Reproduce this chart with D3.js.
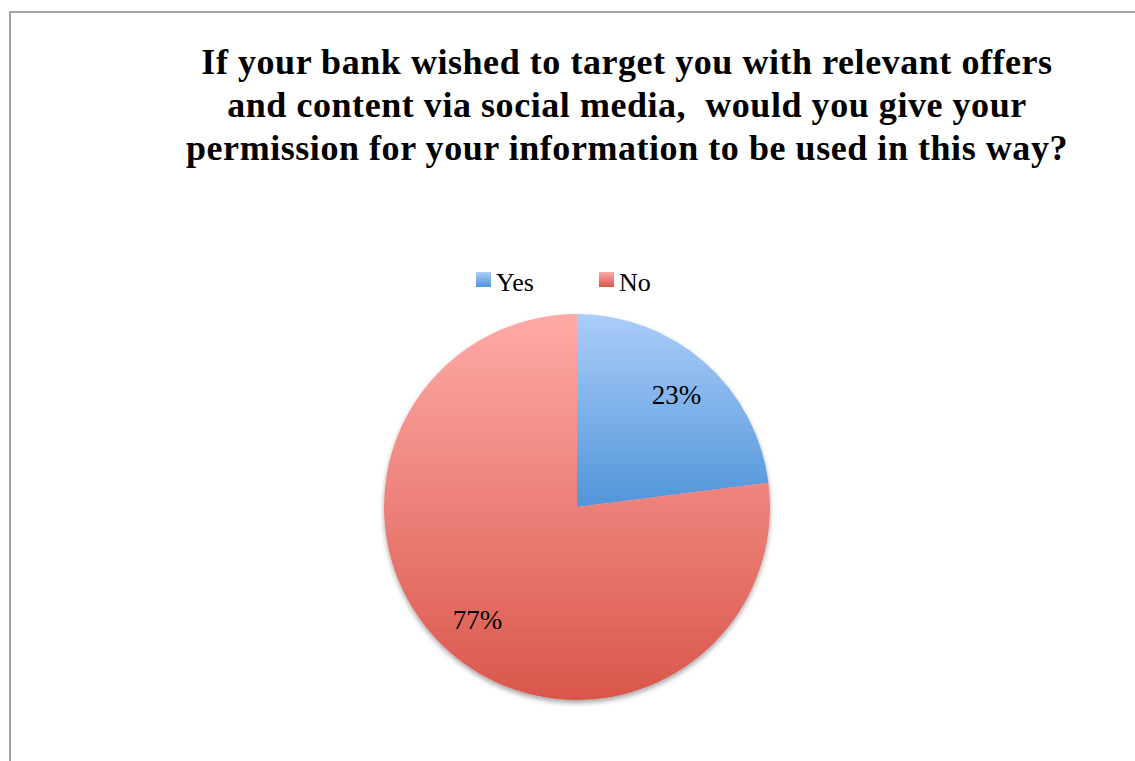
<!DOCTYPE html>
<html>
<head>
<meta charset="utf-8">
<script src="https://cdn.jsdelivr.net/npm/d3@7"></script>
<style>
  html, body { margin: 0; padding: 0; background: #fff; }
  svg { display: block; }
</style>
</head>
<body>
<svg id="chart" width="1135" height="761"></svg>
<script>
// Survey answers
const categories = ["Yes", "No"];
const shares = [23, 77];
const titleLines = [
  "If your bank wished to target you with relevant offers",
  "and content via social media,  would you give your",
  "permission for your information to be used in this way?"
];
// Gradient stops per slice: [top, bottom]
const sliceColors = [["#abcdfa", "#5195d9"], ["#ffaaa7", "#d9574b"]];

const svg = d3.select("#chart");
const W = 1135, H = 761;
const serif = "'Liberation Serif', 'Times New Roman', serif";

// Chart frame (open on right and bottom)
svg.append("path")
  .attr("d", `M10,${H + 5} L10,12 L${W + 5},12`)
  .attr("fill", "none")
  .attr("stroke", "#a3a3a3")
  .attr("stroke-width", 2);

// Title
svg.append("g").selectAll("text")
  .data(titleLines)
  .join("text")
  .attr("x", 627)
  .attr("y", (d, i) => 74 + i * 43)
  .attr("text-anchor", "middle")
  .attr("font-family", serif)
  .attr("font-weight", "bold")
  .attr("font-size", 36)
  .attr("letter-spacing", 0.55)
  .style("white-space", "pre")
  .attr("fill", "#000")
  .text(d => d);

const defs = svg.append("defs");
sliceColors.forEach((c, i) => {
  const g = defs.append("linearGradient")
    .attr("id", "grad" + i)
    .attr("x1", 0).attr("y1", 0).attr("x2", 0).attr("y2", 1);
  g.append("stop").attr("offset", "0%").attr("stop-color", c[0]);
  g.append("stop").attr("offset", "100%").attr("stop-color", c[1]);
});

const shadow = defs.append("filter")
  .attr("id", "shadow")
  .attr("x", "-10%").attr("y", "-10%").attr("width", "120%").attr("height", "125%");
shadow.append("feDropShadow")
  .attr("dx", 0).attr("dy", 3).attr("stdDeviation", 2.5)
  .attr("flood-color", "#000").attr("flood-opacity", 0.35);

// Pie
const cx = 577, cy = 507, R = 193;
const pie = d3.pie().sort(null).value(d => d)(shares);
const arc = d3.arc().innerRadius(0).outerRadius(R);

const pieG = svg.append("g").attr("transform", `translate(${cx},${cy})`);
pieG.append("g").attr("filter", "url(#shadow)")
  .selectAll("path")
  .data(pie)
  .join("path")
  .attr("d", arc)
  .attr("fill", (d, i) => `url(#grad${i})`);

// Data labels
const labelArc = d3.arc().innerRadius(R * 0.78).outerRadius(R * 0.78);
pieG.selectAll("text.lbl")
  .data(pie)
  .join("text")
  .attr("class", "lbl")
  .attr("transform", d => {
    const [x, y] = labelArc.centroid(d);
    return `translate(${x},${y})`;
  })
  .attr("text-anchor", "middle")
  .attr("dy", "0.35em")
  .attr("font-family", serif)
  .attr("font-size", 27)
  .attr("fill", "#000")
  .text(d => d.data + "%");

// Legend
const legend = svg.append("g");
const lx = [476, 599];
categories.forEach((c, i) => {
  legend.append("rect")
    .attr("x", lx[i]).attr("y", 272)
    .attr("width", 15).attr("height", 15)
    .attr("fill", `url(#grad${i})`);
  legend.append("text")
    .attr("x", lx[i] + 20).attr("y", 291)
    .attr("font-family", serif)
    .attr("font-size", 26)
    .attr("fill", "#000")
    .text(c);
});
</script>
</body>
</html>
